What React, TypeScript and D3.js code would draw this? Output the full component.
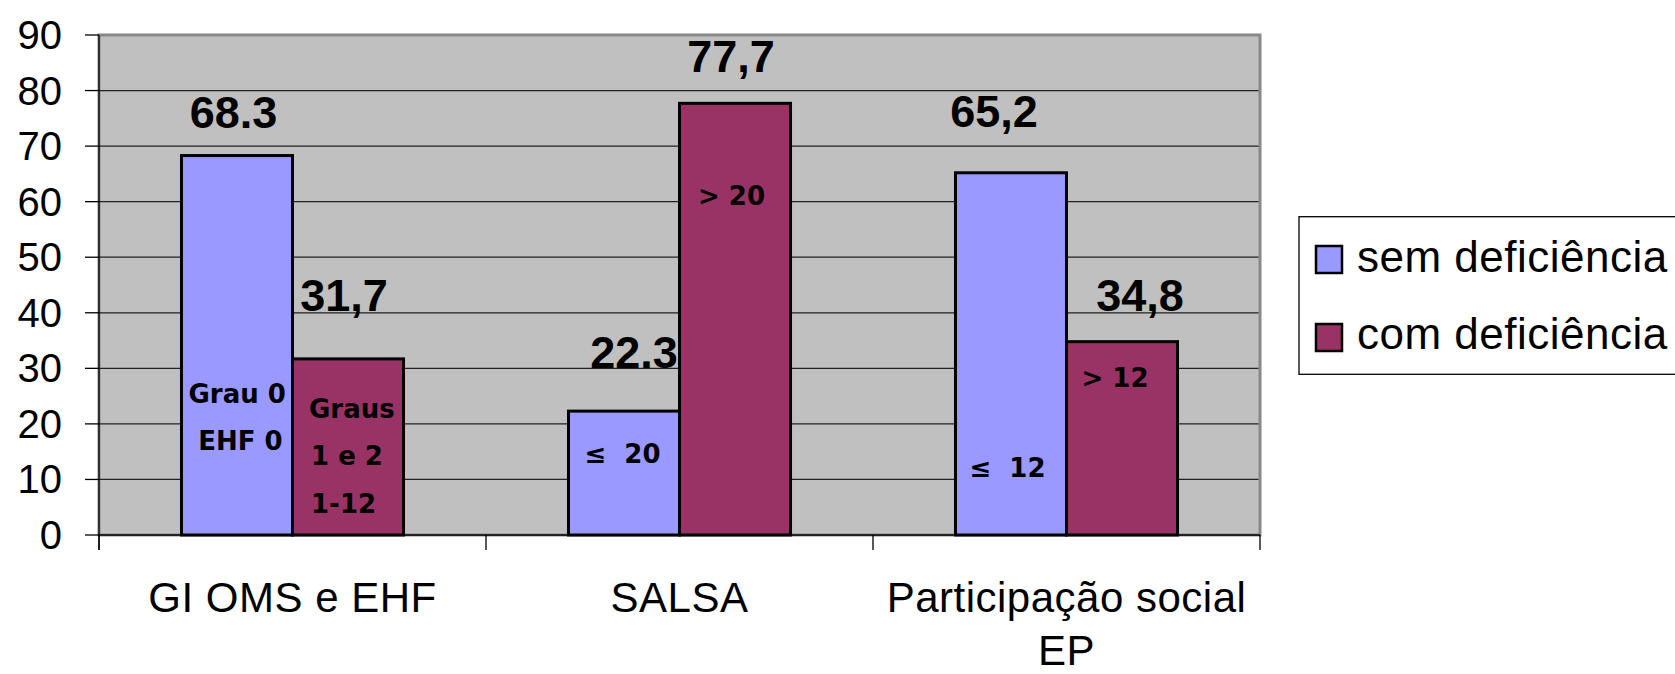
import React from "react";
import * as d3 from "d3";

const categories: string[][] = [["GI OMS e EHF"], ["SALSA"], ["Participação social", "EP"]];
const seriesNames = ["sem deficiência", "com deficiência"];
const semDeficiencia = [68.3, 22.3, 65.2];
const comDeficiencia = [31.7, 77.7, 34.8];
const semLabels = ["68.3", "22.3", "65,2"];
const comLabels = ["31,7", "77,7", "34,8"];
const yTicks = [0, 10, 20, 30, 40, 50, 60, 70, 80, 90];
// inner annotations: [series index, category index, lines]
const innerNotes: { s: number; c: number; lines: string[] }[] = [
  { s: 0, c: 0, lines: ["Grau 0", "EHF 0"] },
  { s: 1, c: 0, lines: ["Graus", "1 e 2", "1-12"] },
  { s: 0, c: 1, lines: ["≤  20"] },
  { s: 1, c: 1, lines: ["> 20"] },
  { s: 0, c: 2, lines: ["≤  12"] },
  { s: 1, c: 2, lines: ["> 12"] },
];

// layout (manual label placement as in the original)
const valueLabelOffsets = [
  [[-3.5, -28], [10, -43], [-17, -46]],
  [[-4, -48], [-4, -31.7], [18, -31]],
];
const innerOffsets: number[][][] = [
  [[7, 132.3], [16.7, 85]],
  [[16.5, 117.3], [18.5, 70], [18.5, 22]],
  [[16, 72]],
  [[18.5, 330]],
  [[14, 58]],
  [[15, 148]],
];

const colors = ["#9999FF", "#993366"];
const W = 1675, H = 674;
const left = 99, right = 1260, top = 35, bottom = 535;

export default function App() {
  const y = d3.scaleLinear().domain([0, 90]).range([bottom, top]);
  const keys = categories.map((c) => c.join(" "));
  const x0 = d3.scaleBand().domain(keys).range([left, right]).paddingInner(0).paddingOuter(0);
  const x1 = d3.scaleBand().domain(seriesNames).range([0, x0.bandwidth()]).paddingInner(0).paddingOuter(0.743);
  const values = [semDeficiencia, comDeficiencia];
  const labels = [semLabels, comLabels];
  const arial = "'Liberation Sans', Arial, Helvetica, sans-serif";
  const verdana = "'DejaVu Sans', Verdana, sans-serif";
  const boundaries = [left, ...keys.map((k) => (x0(k) as number) + x0.bandwidth())];

  return (
    <svg width={W} height={H} style={{ position: "absolute", left: 0, top: 0, background: "#fff" }}>
      <rect x={left} y={top} width={right - left} height={bottom - top} fill="#C0C0C0" stroke="#888" strokeWidth={3} />
      {yTicks.filter((t) => t > 0 && t < 90).map((t) => (
        <line key={t} x1={left} x2={right - 1.5} y1={y(t)} y2={y(t)} stroke="#222" strokeWidth={1.3} />
      ))}
      {/* axes */}
      <line x1={left} x2={left} y1={top} y2={bottom + 15} stroke="#000" strokeWidth={1.3} />
      <line x1={left} x2={right} y1={bottom} y2={bottom} stroke="#000" strokeWidth={1.3} />
      {yTicks.map((t) => (
        <g key={t}>
          <line x1={left - 14} x2={left} y1={y(t)} y2={y(t)} stroke="#000" strokeWidth={1.3} />
          <text x={62} y={y(t) + 14} textAnchor="end" fontFamily={arial} fontSize={40} fill="#000">
            {t}
          </text>
        </g>
      ))}
      {boundaries.map((b, i) => (
        <line key={i} x1={b} x2={b} y1={bottom} y2={bottom + 15} stroke="#000" strokeWidth={1.3} />
      ))}
      {/* bars */}
      {values.map((vals, s) =>
        vals.map((v, c) => {
          const bx = (x0(keys[c]) as number) + (x1(seriesNames[s]) as number);
          return (
            <rect key={`${s}-${c}`} x={bx} y={y(v)} width={x1.bandwidth()} height={y(0) - y(v)} fill={colors[s]} stroke="#000" strokeWidth={3} />
          );
        })
      )}
      {/* value labels */}
      {values.map((vals, s) =>
        vals.map((v, c) => {
          const bx = (x0(keys[c]) as number) + (x1(seriesNames[s]) as number) + x1.bandwidth() / 2;
          const [dx, dy] = valueLabelOffsets[s][c];
          return (
            <text key={`l${s}-${c}`} x={bx + dx} y={y(v) + dy} textAnchor="middle" fontFamily={arial} fontWeight="bold" fontSize={45} fill="#000">
              {labels[s][c]}
            </text>
          );
        })
      )}
      {/* inner notes */}
      {innerNotes.map((n, i) => {
        const bx = (x0(keys[n.c]) as number) + (x1(seriesNames[n.s]) as number);
        return n.lines.map((ln, j) => (
          <text key={`n${i}-${j}`} x={bx + innerOffsets[i][j][0]} y={y(0) - innerOffsets[i][j][1]} fontFamily={verdana} fontWeight="bold" fontSize={26} fill="#000" style={{ whiteSpace: "pre" }}>
            {ln}
          </text>
        ));
      })}
      {/* category labels */}
      {categories.map((lines, c) => {
        const cx = (x0(keys[c]) as number) + x0.bandwidth() / 2;
        return lines.map((ln, j) => (
          <text key={`c${c}-${j}`} x={cx} y={612 + j * 53} textAnchor="middle" fontFamily={arial} fontSize={42} letterSpacing={0.5} fill="#000">
            {ln}
          </text>
        ));
      })}
      {/* legend */}
      <rect x={1299} y={216.7} width={400} height={157.6} fill="#fff" stroke="#000" strokeWidth={1.3} />
      {seriesNames.map((nm, i) => (
        <g key={nm}>
          <rect x={1316} y={246 + i * 78} width={26} height={27} fill={colors[i]} stroke="#000" strokeWidth={2.5} />
          <text x={1357} y={271.7 + i * 77.7} fontFamily={arial} fontSize={44} letterSpacing={0.5} fill="#000">
            {nm}
          </text>
        </g>
      ))}
    </svg>
  );
}
